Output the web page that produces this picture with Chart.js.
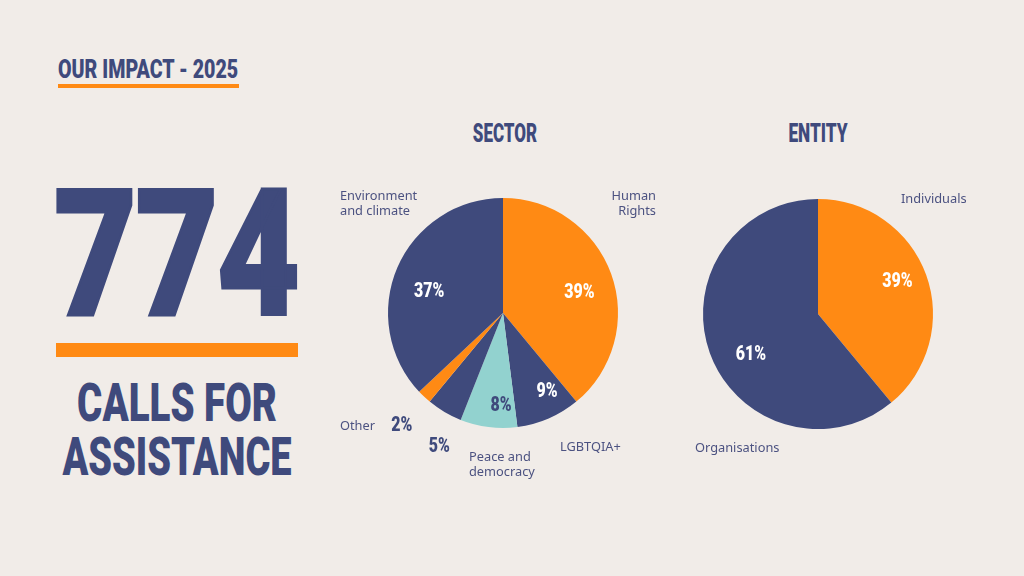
<!DOCTYPE html>
<html><head><meta charset="utf-8">
<script src="https://cdn.jsdelivr.net/npm/chart.js@4"></script>
<style>
html,body{margin:0;padding:0;}
body{width:1024px;height:576px;background:#F1ECE8;position:relative;overflow:hidden;font-family:Roboto,sans-serif;}
.c{position:absolute;font-family:Roboto,"DejaVu Sans Condensed",sans-serif;font-weight:900;color:#3F4A7C;line-height:1;white-space:nowrap;}
.bar{position:absolute;background:#FF8A14;}
canvas{position:absolute;}
</style></head>
<body>
<div class="c" id="t1" style="left:58px;top:57px;font-size:25px;transform:scaleX(.785);transform-origin:left top;">OUR IMPACT - 2025</div>
<div class="bar" style="left:58px;top:84px;width:181px;height:4px;"></div>
<div class="c" id="big" style="left:54px;top:166px;font-size:177px;transform:scaleX(.81);transform-origin:left top;letter-spacing:-2px;-webkit-text-stroke:3px #3F4A7C;">774</div>
<div class="bar" style="left:56px;top:343px;width:242px;height:14px;"></div>
<div class="c" style="left:0;width:354px;text-align:center;top:376px;font-size:53.5px;transform:scaleX(.72);transform-origin:177px 0;">CALLS FOR</div>
<div class="c" style="left:0;width:354px;text-align:center;top:430px;font-size:53.5px;transform:scaleX(.71);transform-origin:177px 0;">ASSISTANCE</div>
<div class="c" style="left:405px;width:200px;text-align:center;top:121px;font-size:25px;transform:scaleX(.68);transform-origin:100px 0;">SECTOR</div>
<div class="c" style="left:718px;width:200px;text-align:center;top:121px;font-size:25px;transform:scaleX(.69);transform-origin:100px 0;">ENTITY</div>
<canvas id="sector" style="left:303px;top:143px;width:400px;height:340px;" width="400" height="340"></canvas>
<canvas id="entity" style="left:618px;top:144px;width:400px;height:340px;" width="400" height="340"></canvas>
<script>
// ---- data ----
const sectorLabels = ['Human\nRights', 'LGBTQIA+', 'Peace and\ndemocracy', '', 'Other', 'Environment\nand climate'];
const sectorValues = [39, 9, 8, 5, 2, 37];
const entityLabels = ['Individuals', 'Organisations'];
const entityValues = [39, 61];

// ---- style ----
const NAVY = '#3F4A7C', ORANGE = '#FF8A14', TEAL = '#92D2CF', TXT = '#4C5281';
const sectorColors = [ORANGE, NAVY, TEAL, NAVY, ORANGE, NAVY];
const entityColors = [ORANGE, NAVY];

// label layout: percent label radial factor / angle tweak (deg) / colour; name label offset from centre
const sectorPctLayout = [
  {f:0.69, a:4,  c:'#fff'}, {f:0.78, a:-6, c:'#fff'}, {f:0.80, a:-6, c:NAVY},
  {f:1.28, a:-5, c:NAVY}, {f:1.31, a:-1, c:NAVY}, {f:0.67, a:-7, c:'#fff'}];
const sectorNameLayout = [
  {x:153, y:-117, align:'right'}, {x:57, y:134, align:'left'}, {x:-34, y:144, align:'left'},
  null, {x:-163, y:113, align:'left'}, {x:-163, y:-117, align:'left'}];
const entityPctLayout = [{f:0.75, a:-3, c:'#fff'}, {f:0.68, a:-11, c:'#fff'}];
const entityNameLayout = [{x:83, y:-115, align:'left'}, {x:-123, y:134, align:'left'}];

function labelPlugin(pctLayout, nameLayout) {
  return {
    id: 'lbl',
    afterDatasetsDraw(chart) {
      const ctx = chart.ctx;
      const meta = chart.getDatasetMeta(0);
      const data = chart.data.datasets[0].data;
      const names = chart.data.labels;
      meta.data.forEach((arc, i) => {
        const p = arc.getProps(['x','y','startAngle','endAngle','outerRadius'], true);
        const L = pctLayout[i];
        const mid = (p.startAngle + p.endAngle) / 2 + L.a * Math.PI / 180;
        const px = p.x + Math.cos(mid) * p.outerRadius * L.f;
        const py = p.y + Math.sin(mid) * p.outerRadius * L.f;
        ctx.save();
        ctx.translate(px, py);
        ctx.scale(0.76, 1);
        ctx.font = '900 21px Roboto, "DejaVu Sans Condensed", sans-serif';
        ctx.fillStyle = L.c;
        ctx.textAlign = 'center';
        ctx.textBaseline = 'middle';
        ctx.fillText(data[i] + '%', 0, 1);
        ctx.restore();
        const N = nameLayout[i];
        if (N && names[i]) {
          ctx.save();
          ctx.font = '400 12.8px "Noto Sans", sans-serif';
          ctx.fillStyle = TXT;
          ctx.textAlign = N.align;
          ctx.textBaseline = 'middle';
          names[i].split('\n').forEach((ln, k) => ctx.fillText(ln, p.x + N.x, p.y + N.y + k * 15));
          ctx.restore();
        }
      });
    }
  };
}

function makePie(id, labels, values, colors, pl, nl) {
  new Chart(document.getElementById(id), {
    type: 'pie',
    data: { labels: labels, datasets: [{ data: values, backgroundColor: colors, borderWidth: 0 }] },
    options: {
      responsive: false, animation: false, devicePixelRatio: 1,
      layout: { padding: { top: 55, bottom: 55, left: 85, right: 85 } },
      plugins: { legend: { display: false }, tooltip: { enabled: false } }
    },
    plugins: [labelPlugin(pl, nl)]
  });
}
makePie('sector', sectorLabels, sectorValues, sectorColors, sectorPctLayout, sectorNameLayout);
makePie('entity', entityLabels, entityValues, entityColors, entityPctLayout, entityNameLayout);
</script>
</body></html>
